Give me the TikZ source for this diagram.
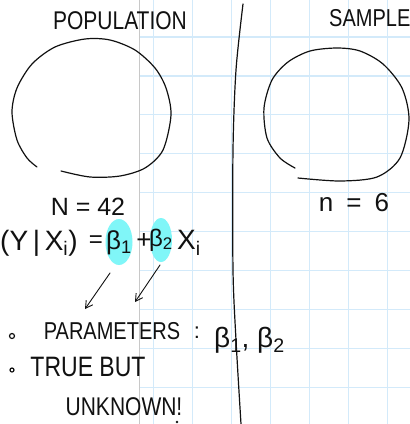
\documentclass[tikz,border=0pt]{standalone}
\usepackage{fontspec}
\setmainfont{Liberation Sans}
\usepackage{tikz}
\usetikzlibrary{arrows.meta}
\definecolor{ink}{HTML}{111111}
\definecolor{hilite}{HTML}{80F6F8}
\definecolor{gridblue}{HTML}{D3EAFA}
\definecolor{margin}{HTML}{C8C8C8}
\newcommand{\fsz}[1]{\fontsize{#1}{#1}\selectfont}
\newcommand{\tall}[1]{\scalebox{1}[1.22]{#1}}
\newcommand{\sheet}{\foreach \gx in {153.3,192.3,...,400} \draw[gridblue,line width=1.2pt] (\gx,0)--(\gx,424); \foreach \gy in {37,75.9,...,424} \draw[gridblue,line width=1.2pt] (139.5,\gy)--(410,\gy); \draw[margin,line width=1pt] (139.5,0)--(139.5,424);}

\begin{document}
\begin{tikzpicture}[x=1pt,y=-1pt,hand/.style={ink,line width=1.2pt,line cap=round,line join=round},arr/.style={hand,line width=0.9pt,-{Straight Barb[length=7pt,width=8pt]}},lbl/.style={ink,inner sep=0pt}]
\useasboundingbox (0,0) rectangle (410,424);
\fill[white] (0,0) rectangle (410,424);
\sheet
\draw[hand] plot[smooth] coordinates {(61,171) (90,177) (120,176) (145,168) (163,150) (171,115) (166,88) (155,68) (135,50) (110,40) (85,39) (55,47) (32,64) (17,88) (12,112) (17,140) (27,158) (37,167)};
\draw[hand] plot[smooth] coordinates {(298,178) (340,181) (377,177) (400,158) (409,120) (402,88) (383,64) (360,51) (337,48) (310,51) (288,62) (272,80) (264,108) (267,138) (280,158) (295,168)};
\draw[hand] plot[smooth] coordinates {(243,4) (236,70) (233,150) (233,270) (236,340) (241,424)};
\node[lbl,font=\fsz{21}] (pop) at (120,21) {\tall{POPULATION}};
\node[lbl,font=\fsz{20},anchor=west] (smp) at (329,18) {\tall{SAMPLE}};
\node[lbl,font=\fsz{25}] (bign) at (88,207) {N = 42};
\node[lbl,font=\fsz{26}] (smn) at (354,203) {n\enspace=\enspace6};
\fill[hilite] (119,242) ellipse (13.5 and 23); \fill[hilite] (161,240) ellipse (11 and 22);
\node[lbl,font=\fsz{28},anchor=west] (lhs) at (0,243) {(Y\,|\,X\textsubscript{i})};
\node[lbl,font=\fsz{24}] (eq) at (96,242) {=};
\node[lbl,font=\fsz{26}] (b1) at (119,243) {β\textsubscript{1}};
\node[lbl,font=\fsz{26}] (plus) at (144,241) {+};
\node[lbl,font=\fsz{24}] (b2) at (161,240) {β\textsubscript{2}};
\node[lbl,font=\fsz{28},anchor=west] (xi) at (177,243) {X\textsubscript{i}};
\coordinate (a1s) at (110,273); \coordinate (a1e) at (85,309);
\coordinate (a2s) at (160,265); \coordinate (a2e) at (135,302);
\draw[arr] (a1s) -- (a1e); \draw[arr] (a2s) -- (a2e);
\draw[hand] (12,336) circle (2.5); \draw[hand] (12,370) circle (2);
\node[lbl,font=\fsz{20}] (par) at (112,331) {\tall{PARAMETERS}};
\node[lbl,font=\fsz{22}] (col) at (197,333) {:};
\node[lbl,font=\fsz{28},anchor=west] (betas) at (214,340) {β\textsubscript{1}, β\textsubscript{2}};
\node[lbl,font=\fsz{23}] (tbut) at (88,367) {\tall{TRUE BUT}};
\node[lbl,font=\fsz{21}] (unk) at (124,407) {\tall{UNKNOWN!}};
\fill[ink] (177,422) circle (1.3);
\end{tikzpicture}
\end{document}
